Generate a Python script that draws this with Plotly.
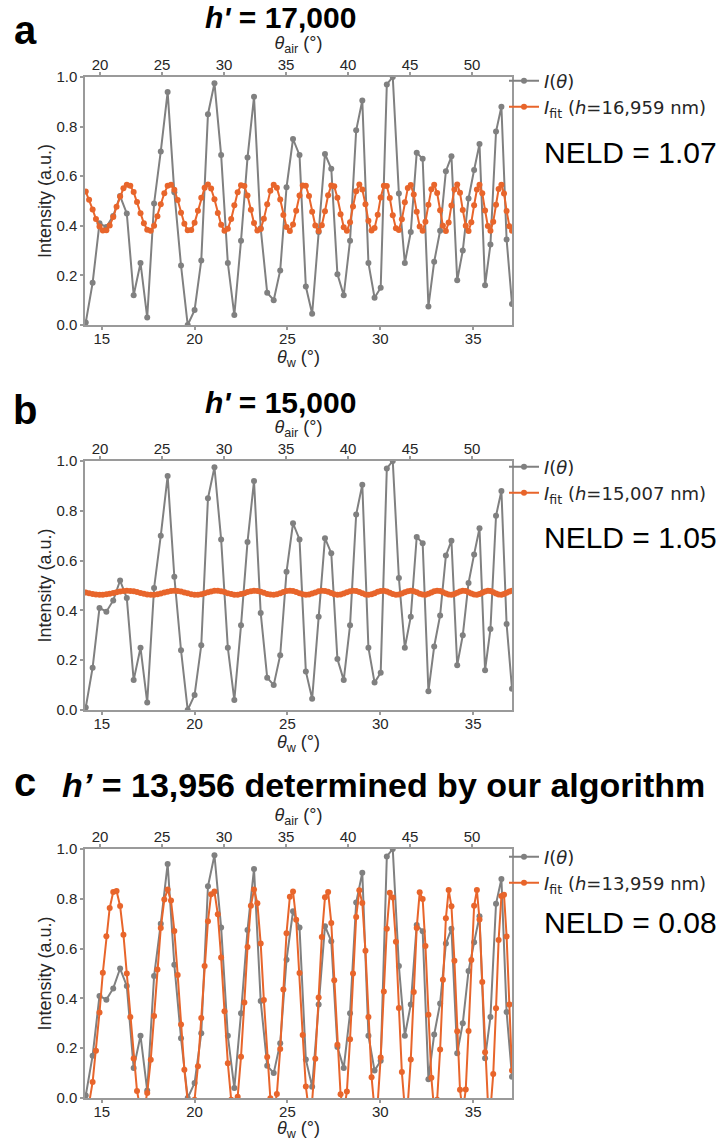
import plotly.graph_objects as go

# ---------------- data ----------------
# theta_w (deg) sample grid of the fitted curves; measured data use every 2nd sample
theta_w_fit = [
    14.14, 14.32, 14.51, 14.69, 14.88, 15.06, 15.25, 15.43, 15.62, 15.80, 15.99, 16.17,
    16.35, 16.54, 16.72, 16.90, 17.09, 17.27, 17.45, 17.64, 17.82, 18.00, 18.18, 18.37,
    18.55, 18.73, 18.91, 19.09, 19.27, 19.45, 19.63, 19.82, 20.00, 20.18, 20.36, 20.54,
    20.72, 20.89, 21.07, 21.25, 21.43, 21.61, 21.79, 21.97, 22.14, 22.32, 22.50, 22.68,
    22.85, 23.03, 23.20, 23.38, 23.56, 23.73, 23.91, 24.08, 24.26, 24.43, 24.61, 24.78,
    24.95, 25.13, 25.30, 25.47, 25.65, 25.82, 25.99, 26.16, 26.33, 26.50, 26.68, 26.85,
    27.02, 27.19, 27.36, 27.52, 27.69, 27.86, 28.03, 28.20, 28.37, 28.53, 28.70, 28.87,
    29.03, 29.20, 29.36, 29.53, 29.69, 29.86, 30.02, 30.19, 30.35, 30.51, 30.67, 30.84,
    31.00, 31.16, 31.32, 31.48, 31.64, 31.80, 31.96, 32.12, 32.28, 32.43, 32.59, 32.75,
    32.90, 33.06, 33.22, 33.37, 33.53, 33.68, 33.83, 33.99, 34.14, 34.29, 34.44, 34.60,
    34.75, 34.90, 35.05, 35.20, 35.34, 35.49, 35.64, 35.79, 35.93, 36.08, 36.23, 36.37,
    36.52, 36.66, 36.80, 36.95, 37.09]
theta_w_meas = theta_w_fit[::2]

intensity_meas = [
    0.01, 0.17, 0.41, 0.395, 0.44, 0.52, 0.45, 0.12, 0.25, 0.03,
    0.49, 0.70, 0.94, 0.535, 0.24, 0.00, 0.06, 0.26, 0.85, 0.975,
    0.685, 0.25, 0.04, 0.34, 0.675, 0.92, 0.39, 0.13, 0.10, 0.22,
    0.555, 0.75, 0.685, 0.155, 0.045, 0.375, 0.69, 0.63, 0.205, 0.12,
    0.34, 0.785, 0.905, 0.25, 0.11, 0.15, 0.97, 1.00, 0.53, 0.25,
    0.375, 0.695, 0.67, 0.075, 0.255, 0.38, 0.62, 0.68, 0.18, 0.30,
    0.51, 0.625, 0.73, 0.16, 0.325, 0.78, 0.88, 0.345, 0.085]

fit_a = [
    0.538, 0.505, 0.466, 0.427, 0.397, 0.381, 0.382, 0.401, 0.435, 0.477, 0.518, 0.551,
    0.566, 0.561, 0.536, 0.496, 0.451, 0.410, 0.384, 0.380, 0.400, 0.439, 0.487, 0.531,
    0.561, 0.566, 0.545, 0.504, 0.453, 0.408, 0.382, 0.383, 0.412, 0.461, 0.513, 0.553,
    0.567, 0.550, 0.507, 0.452, 0.404, 0.380, 0.388, 0.427, 0.483, 0.535, 0.564, 0.560,
    0.522, 0.465, 0.411, 0.381, 0.387, 0.428, 0.487, 0.541, 0.566, 0.553, 0.506, 0.444,
    0.395, 0.379, 0.405, 0.461, 0.522, 0.562, 0.561, 0.520, 0.457, 0.401, 0.379, 0.402,
    0.459, 0.523, 0.563, 0.559, 0.513, 0.447, 0.394, 0.380, 0.414, 0.478, 0.539, 0.567,
    0.546, 0.487, 0.420, 0.381, 0.391, 0.445, 0.514, 0.561, 0.560, 0.512, 0.443, 0.390,
    0.383, 0.426, 0.495, 0.552, 0.565, 0.526, 0.457, 0.397, 0.380, 0.416, 0.485, 0.547,
    0.566, 0.532, 0.463, 0.400, 0.379, 0.413, 0.482, 0.546, 0.567, 0.533, 0.464, 0.400,
    0.379, 0.414, 0.483, 0.546, 0.566, 0.531, 0.462, 0.399, 0.380, 0.416, 0.485, 0.548,
    0.566, 0.530, 0.460, 0.398, 0.380]

fit_b = [
    0.472, 0.469, 0.466, 0.464, 0.463, 0.463, 0.465, 0.467, 0.470, 0.473, 0.476, 0.478,
    0.479, 0.478, 0.477, 0.474, 0.470, 0.467, 0.464, 0.463, 0.463, 0.465, 0.468, 0.472,
    0.475, 0.478, 0.479, 0.478, 0.476, 0.472, 0.469, 0.465, 0.463, 0.463, 0.465, 0.469,
    0.473, 0.476, 0.479, 0.479, 0.477, 0.474, 0.469, 0.466, 0.463, 0.463, 0.466, 0.469,
    0.474, 0.477, 0.479, 0.478, 0.475, 0.471, 0.466, 0.464, 0.463, 0.465, 0.469, 0.474,
    0.478, 0.479, 0.478, 0.474, 0.469, 0.465, 0.463, 0.464, 0.468, 0.472, 0.477, 0.479,
    0.478, 0.475, 0.470, 0.465, 0.463, 0.464, 0.468, 0.473, 0.477, 0.479, 0.478, 0.474,
    0.469, 0.464, 0.463, 0.465, 0.469, 0.475, 0.478, 0.479, 0.476, 0.471, 0.466, 0.463,
    0.464, 0.468, 0.473, 0.477, 0.479, 0.477, 0.473, 0.467, 0.464, 0.463, 0.467, 0.472,
    0.477, 0.479, 0.478, 0.473, 0.468, 0.464, 0.463, 0.466, 0.471, 0.476, 0.479, 0.478,
    0.473, 0.468, 0.464, 0.463, 0.466, 0.471, 0.476, 0.479, 0.478, 0.473, 0.468, 0.464,
    0.463, 0.466, 0.471, 0.476, 0.479]

fit_c = [
    -0.056, -0.021, 0.064, 0.190, 0.343, 0.503, 0.650, 0.763, 0.827, 0.831, 0.771, 0.656,
    0.500, 0.325, 0.159, 0.028, -0.046, -0.049, 0.020, 0.154, 0.329, 0.516, 0.683, 0.797,
    0.837, 0.793, 0.671, 0.494, 0.295, 0.113, -0.013, -0.057, -0.007, 0.128, 0.321, 0.530,
    0.710, 0.818, 0.829, 0.738, 0.564, 0.348, 0.140, -0.007, -0.057, 0.005, 0.166, 0.384,
    0.606, 0.772, 0.837, 0.782, 0.620, 0.394, 0.165, -0.001, -0.057, 0.016, 0.197, 0.436,
    0.662, 0.808, 0.829, 0.716, 0.502, 0.253, 0.046, -0.054, -0.012, 0.158, 0.404, 0.647,
    0.806, 0.827, 0.703, 0.473, 0.214, 0.015, -0.057, 0.026, 0.236, 0.500, 0.727, 0.834,
    0.783, 0.591, 0.325, 0.083, -0.048, -0.018, 0.163, 0.428, 0.680, 0.824, 0.805, 0.628,
    0.361, 0.104, -0.044, -0.024, 0.155, 0.426, 0.683, 0.826, 0.799, 0.610, 0.334, 0.081,
    -0.051, -0.007, 0.195, 0.475, 0.722, 0.835, 0.770, 0.551, 0.268, 0.033, -0.057, 0.034,
    0.269, 0.554, 0.772, 0.835, 0.717, 0.466, 0.184, -0.014, -0.048, 0.096, 0.360, 0.635,
    0.811, 0.816, 0.649, 0.376, 0.110]

panel_letters = ["a", "b", "c"]
panel_titles = ["<b><i>h'</i> = 17,000</b>",
                "<b><i>h'</i> = 15,000</b>",
                "<b><i>h’</i> = 13,956 determined by our algorithm</b>"]
fit_labels = ["16,959", "15,007", "13,959"]
neld_values = ["1.07", "1.05", "0.08"]
fits = [fit_a, fit_b, fit_c]

theta_w_range = [14.10, 37.09]
theta_air_range = [18.79, 53.22]
theta_w_ticks = [15, 20, 25, 30, 35]
theta_air_ticks = [20, 25, 30, 35, 40, 45, 50]
y_ticks = [0.0, 0.2, 0.4, 0.6, 0.8, 1.0]

# ---------------- style ----------------
W, H = 722, 1141
FONT = "Arial, 'Liberation Sans', sans-serif"
LEG_FONT = "'DejaVu Sans', sans-serif"
GRAY = "#808080"
ORANGE = "#E8652B"
AXC = "#9a9a9a"
TXT = "#262626"
plot_left, plot_right = 85, 512
panel_tops = [77, 461, 849]
panel_bottoms = [325, 710, 1098]
letter_y = [30, 410, 782]
title_y = [18, 402, 785]
title_x = [280, 280, 383]
title_size = [30, 30, 34]
legend_rows = [(81, 107), (467, 493), (857, 883)]
neld_y = [152, 537, 923]


def X(px):
    return px / W


def Y(py):
    return 1 - py / H


fig = go.Figure()
layout = dict(width=W, height=H, margin=dict(l=0, r=0, t=0, b=0, autoexpand=False),
              plot_bgcolor="white", paper_bgcolor="white",
              font=dict(family=FONT, color=TXT), annotations=[])

for i in range(3):
    xb = "x" if i == 0 else f"x{2 * i + 1}"
    xt = f"x{2 * i + 2}"
    yy = "y" if i == 0 else f"y{i + 1}"
    leg_meas = "legend" if i == 0 else f"legend{2 * i + 1}"
    leg_fit = f"legend{2 * i + 2}"
    xb_key = "xaxis" if i == 0 else f"xaxis{2 * i + 1}"
    xt_key = f"xaxis{2 * i + 2}"
    y_key = "yaxis" if i == 0 else f"yaxis{i + 1}"

    fig.add_trace(go.Scatter(
        x=theta_w_meas, y=intensity_meas, xaxis=xb, yaxis=yy, legend=leg_meas,
        mode="lines+markers", name="<i>I</i>(<i>θ</i>)",
        line=dict(color=GRAY, width=2), marker=dict(color=GRAY, size=6)))
    fig.add_trace(go.Scatter(
        x=theta_w_fit, y=fits[i], xaxis=xb, yaxis=yy, legend=leg_fit,
        mode="lines+markers",
        name=f"<i>I</i><sub>fit</sub> (<i>h</i>={fit_labels[i]} nm)",
        line=dict(color=ORANGE, width=2), marker=dict(color=ORANGE, size=6)))
    # carrier trace for the top theta_air axis
    fig.add_trace(go.Scatter(x=[None], y=[None], xaxis=xt, yaxis=yy,
                             showlegend=False, hoverinfo="skip"))

    dom_y = [Y(panel_bottoms[i]), Y(panel_tops[i])]
    common = dict(showline=True, linecolor=AXC, linewidth=1.5, ticks="outside",
                  ticklen=3, tickwidth=1.5, tickcolor=AXC, showgrid=False,
                  zeroline=False, automargin=False, tickfont=dict(size=15, color=TXT))
    layout[xb_key] = dict(common, domain=[X(plot_left), X(plot_right)], anchor=yy,
                          range=theta_w_range, tickvals=theta_w_ticks, mirror=True,
                          ticklabelstandoff=-4,
                          title=dict(text="<i>θ</i><sub>w</sub> (°)", standoff=0,
                                     font=dict(size=18, color=TXT)))
    layout[xt_key] = dict(common, overlaying=xb, side="top", anchor=yy,
                          range=theta_air_range, tickvals=theta_air_ticks,
                          ticklabelstandoff=-4,
                          title=dict(text="<i>θ</i><sub>air</sub> (°)", standoff=0,
                                     font=dict(size=18, color=TXT)))
    layout[y_key] = dict(common, domain=dom_y, anchor=xb, range=[0, 1.0],
                         tickvals=y_ticks, tickformat=".1f", mirror=True,
                         title=dict(text="Intensity (a.u.)", standoff=0,
                                    font=dict(size=18, color=TXT)))
    for leg, yrow in ((leg_meas, legend_rows[i][0]), (leg_fit, legend_rows[i][1])):
        layout[leg] = dict(x=X(504), y=Y(yrow), xanchor="left", yanchor="middle",
                           font=dict(family=LEG_FONT, size=18, color=TXT),
                           bgcolor="rgba(0,0,0,0)", itemwidth=30, tracegroupgap=0)

    layout["annotations"] += [
        dict(text=f"<b>{panel_letters[i]}</b>", x=X(25), y=Y(letter_y[i]),
             xref="paper", yref="paper", showarrow=False, xanchor="center",
             yanchor="middle", font=dict(size=40, color="black")),
        dict(text=panel_titles[i], x=X(title_x[i]), y=Y(title_y[i]),
             xref="paper", yref="paper", showarrow=False, xanchor="center",
             yanchor="middle", font=dict(size=title_size[i], color="black")),
        dict(text=f"NELD = {neld_values[i]}", x=X(542), y=Y(neld_y[i]),
             xref="paper", yref="paper", showarrow=False, xanchor="left",
             yanchor="middle", font=dict(size=30, color="black")),
    ]

fig.update_layout(**layout)
fig.write_html("out.html")
